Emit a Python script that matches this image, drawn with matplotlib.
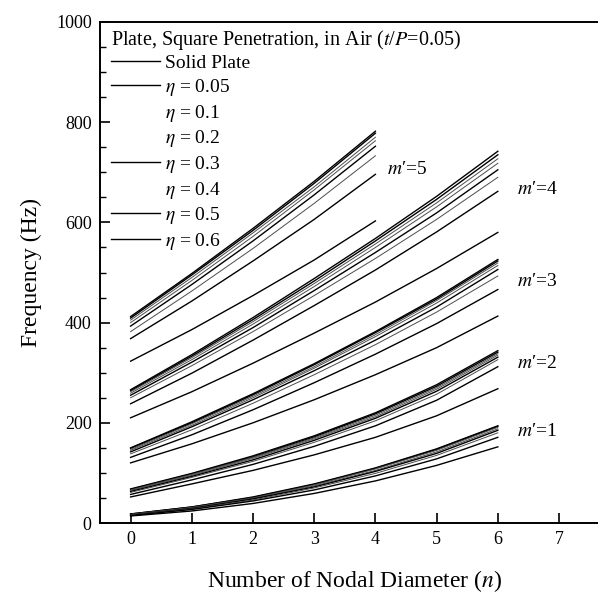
import matplotlib
matplotlib.use("Agg")
import matplotlib.pyplot as plt
from matplotlib.ticker import MultipleLocator

plt.rcParams['font.family'] = ['Liberation Serif', 'DejaVu Serif']
plt.rcParams['mathtext.fontset'] = 'stix'

# nodal diameters
n_full = [0, 1, 2, 3, 4, 5, 6]
n_m5 = [0, 1, 2, 3, 4]

labels = ['Solid Plate', r'$\eta$ = 0.05', r'$\eta$ = 0.1', r'$\eta$ = 0.2',
          r'$\eta$ = 0.3', r'$\eta$ = 0.4', r'$\eta$ = 0.5', r'$\eta$ = 0.6']

# frequencies (Hz), one row per curve: solid, eta=0.05 ... 0.6
m1 = [[18, 32, 52, 78, 110, 148, 194],
      [18, 32, 51, 77, 109, 147, 193],
      [17, 31, 50, 76, 108, 145, 191],
      [17, 30, 49, 74, 105, 142, 188],
      [16, 29, 48, 72, 103, 139, 185],
      [16, 28, 46, 70, 99, 135, 180],
      [15, 27, 44, 66, 94, 128, 171],
      [14, 24, 39, 59, 84, 115, 152]]

m2 = [[68, 99, 134, 174, 220, 276, 344],
      [67, 98, 132, 172, 218, 273, 341],
      [66, 97, 131, 170, 215, 270, 338],
      [65, 95, 129, 168, 212, 267, 335],
      [63, 93, 126, 165, 209, 263, 331],
      [61, 91, 123, 161, 204, 257, 326],
      [57, 86, 117, 153, 194, 245, 312],
      [52, 78, 105, 136, 171, 214, 268]]

m3 = [[150, 202, 258, 318, 382, 450, 526],
      [149, 200, 256, 316, 380, 447, 523],
      [147, 198, 253, 312, 376, 444, 519],
      [145, 195, 250, 309, 372, 439, 514],
      [142, 192, 246, 304, 365, 431, 506],
      [138, 186, 239, 296, 356, 421, 493],
      [131, 176, 226, 280, 337, 398, 466],
      [120, 158, 200, 246, 296, 350, 413]]

m4 = [[266, 336, 410, 488, 568, 652, 742],
      [264, 333, 406, 483, 563, 646, 735],
      [262, 330, 402, 478, 557, 639, 727],
      [259, 326, 397, 472, 550, 631, 718],
      [255, 321, 390, 464, 540, 619, 705],
      [250, 314, 382, 454, 528, 606, 690],
      [238, 299, 365, 434, 505, 581, 662],
      [210, 262, 319, 379, 441, 508, 580]]

m5 = [[412, 498, 588, 682, 782],
      [409, 495, 584, 678, 778],
      [405, 490, 579, 671, 770],
      [400, 484, 572, 665, 763],
      [393, 476, 563, 655, 752],
      [382, 463, 548, 638, 733],
      [368, 443, 523, 606, 696],
      [323, 386, 454, 525, 603]]

mode_text = ["$m$\u2032=1", "$m$\u2032=2", "$m$\u2032=3", "$m$\u2032=4", "$m$\u2032=5"]
mode_text_x = [6.32, 6.32, 6.32, 6.32, 4.19]
mode_text_y = [183, 318, 483, 666, 706]

# curves that came out faint in the scan
faint = [2, 3, 5]

fig = plt.figure(figsize=(5.98, 5.96), dpi=100)
ax = fig.add_axes([100/598, 73/596, 508/598, 501/596])

groups = [(n_full, m1), (n_full, m2), (n_full, m3), (n_full, m4), (n_m5, m5)]
handles = []
for gi, (nn, rows) in enumerate(groups):
    for i, row in enumerate(rows):
        if i in faint:
            kw = dict(color='0.3', lw=0.7)
        else:
            kw = dict(color='black', lw=1.0)
        line, = ax.plot(nn, row, **kw)
        if gi == 0:
            handles.append(line)

for t, x, y in zip(mode_text, mode_text_x, mode_text_y):
    ax.text(x, y, t, fontsize=14, ha='left', va='center')

leg = ax.legend(handles, labels, loc='upper left', bbox_to_anchor=(0.01, 1.0),
                frameon=False, fontsize=14, title_fontsize=14.5,
                title='Plate, Square Penetration, in Air ($t$/$P$=0.05)',
                alignment='left', handlelength=2.5, handletextpad=0.28,
                labelspacing=0.24, borderpad=0.3, borderaxespad=0.0)
leg._legend_box.sep = 2
for i, h in enumerate(leg.legend_handles):
    if i in faint:
        h.set_visible(False)
    else:
        h.set_color('black')
        h.set_linewidth(1.0)

ax.set_xlim(-0.5, 7.8)
ax.set_ylim(0, 1000)
ax.xaxis.set_major_locator(MultipleLocator(1))
ax.yaxis.set_major_locator(MultipleLocator(200))
ax.yaxis.set_minor_locator(MultipleLocator(50))
ax.tick_params(axis='both', which='major', direction='in', length=7, width=1.2,
               labelsize=13, pad=6)
ax.tick_params(axis='y', which='minor', direction='in', length=4, width=1.0)
ax.tick_params(top=False, right=False)
for s in ['left', 'bottom', 'top']:
    ax.spines[s].set_linewidth(1.4)
ax.spines['right'].set_visible(False)

ax.set_xlabel('Number of Nodal Diameter ($n$)', fontsize=17, labelpad=14)
ax.set_ylabel('Frequency (Hz)', fontsize=17, labelpad=10)

fig.savefig('out.png', dpi=100)
